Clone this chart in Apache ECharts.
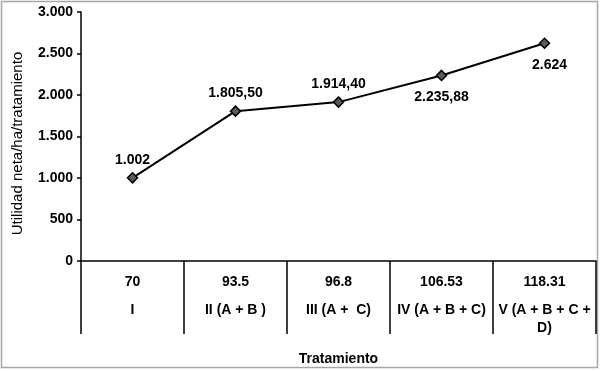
<!DOCTYPE html>
<html><head><meta charset="utf-8">
<script src="https://cdn.jsdelivr.net/npm/echarts@6/dist/echarts.min.js"></script>
<style>html,body{margin:0;padding:0;background:#fff}#c{width:600px;height:371px}</style>
</head><body><div id="c"></div>
<script>
const doses = ['70', '93.5', '96.8', '106.53', '118.31'];
const treatments = ['I', 'II (A + B )', 'III (A +  C)', 'IV (A + B + C)', 'V (A + B + C +\nD)'];
const utilidad = [1002, 1805.5, 1914.4, 2235.88, 2624];
const utilidadLabels = ['1.002', '1.805,50', '1.914,40', '2.235,88', '2.624'];
const labelPos = ['top', 'top', 'top', 'bottom', 'bottom'];
const yTicks = ['0', '500', '1.000', '1.500', '2.000', '2.500', '3.000'];

const cats = doses.map((d, i) => '{a|' + d + '}\n' + treatments[i].split('\n').map(t => '{b|' + t + '}').join('\n'));
const font = 'Liberation Sans, Arial, sans-serif';
const chart = echarts.init(document.getElementById('c'));
chart.setOption({
  animation: false,
  textStyle: { fontFamily: font },
  graphic: [{ type: 'rect', shape: { x: 1.5, y: 1.5, width: 596, height: 366 }, style: { fill: 'none', stroke: '#a6a6a6', lineWidth: 1.5 } }],
  grid: { left: 81, right: 4, top: 12, bottom: 108 },
  xAxis: {
    type: 'category', data: cats, boundaryGap: true,
    name: 'Tratamiento', nameLocation: 'middle', nameGap: 91,
    nameTextStyle: { fontWeight: 'bold', fontSize: 14, color: '#000', fontFamily: font },
    axisLine: { lineStyle: { color: '#000', width: 1.5 } },
    axisTick: { show: true, length: 73, inside: false, lineStyle: { color: '#000', width: 1.5 } },
    axisLabel: {
      interval: 0, margin: 3, color: '#000', fontWeight: 'bold', fontSize: 14, fontFamily: font,
      rich: {
        a: { lineHeight: 37, fontWeight: 'bold', fontSize: 14, color: '#000', fontFamily: font },
        b: { lineHeight: 18, fontWeight: 'bold', fontSize: 14, color: '#000', fontFamily: font }
      }
    }
  },
  yAxis: {
    type: 'value', min: 0, max: 3000, interval: 500,
    name: 'Utilidad neta/ha/tratamiento', nameLocation: 'middle', nameGap: 56,
    nameTextStyle: { fontSize: 15, color: '#000', fontFamily: font, padding: [0, 14, 0, 0] },
    axisLine: { show: true, lineStyle: { color: '#000', width: 1.5 } },
    axisTick: { show: true, length: 4, lineStyle: { color: '#000', width: 1.5 } },
    splitLine: { show: false },
    axisLabel: { color: '#000', fontWeight: 'bold', fontSize: 14, margin: 8, fontFamily: font,
      formatter: v => yTicks[Math.round(v / 500)] }
  },
  series: [{
    type: 'line', data: utilidad.map((v, i) => ({
      value: v,
      label: { position: labelPos[i], distance: labelPos[i] === 'top' ? 5 : 9, offset: i === 4 ? [5, 0] : [0, 0] }
    })),
    symbol: 'diamond', symbolSize: 10,
    lineStyle: { color: '#000', width: 2 },
    itemStyle: { color: '#5a5a5a', borderColor: '#000', borderWidth: 1.5 },
    label: { show: true, color: '#000', fontWeight: 'bold', fontSize: 14, fontFamily: font,
      formatter: p => utilidadLabels[p.dataIndex] }
  }]
});
</script></body></html>
